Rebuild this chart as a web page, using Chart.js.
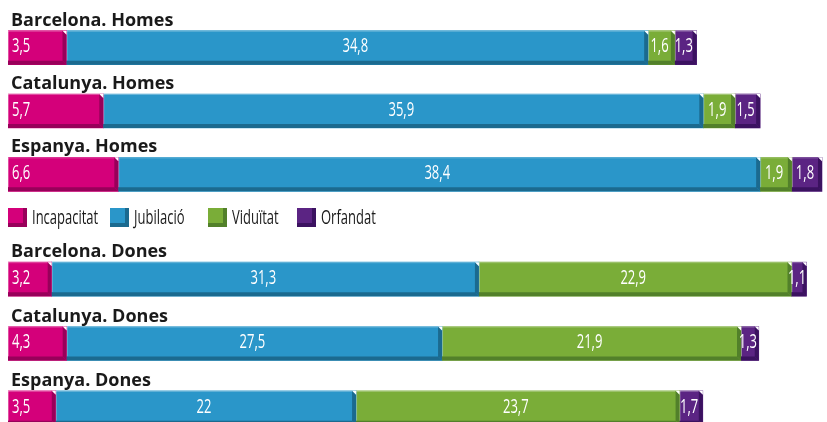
<!DOCTYPE html>
<html>
<head>
<meta charset="utf-8">
<script src="https://cdn.jsdelivr.net/npm/chart.js@4"></script>
<style>
  html, body { margin: 0; padding: 0; background: #fff; overflow: hidden; }
  body { width: 827px; height: 422px; position: relative; }
  canvas { position: absolute; left: 0; }
  #homes { top: 0; }
  #dones { top: 230px; }
  #legend { position: absolute; left: 0; top: 208px; width: 827px; height: 20px;
    font-family: "Open Sans", sans-serif; font-size: 20px; color: #1a1a1a; }
  .item { position: absolute; top: 0; height: 19px; white-space: nowrap; }
  .box { position: absolute; left: 0; top: 0; width: 19px; height: 19px; box-sizing: border-box;
    border-right: 4px solid; border-bottom: 4px solid; }
  .txt { position: absolute; left: 24px; top: -5px; line-height: 27px; transform: scaleX(0.65); transform-origin: 0 50%; }
</style>
</head>
<body>
<canvas id="homes" width="827" height="206"></canvas>
<div id="legend"></div>
<canvas id="dones" width="827" height="210"></canvas>
<script>
// Pensions per tipus (els valors tal com surten a les etiquetes)
let places = ['Barcelona', 'Catalunya', 'Espanya'];
let types = ['Incapacitat', 'Jubilació', 'Viduïtat', 'Orfandat'];

let homesIncapacitat = [3.5, 5.7, 6.6];
let homesJubilacio = [34.8, 35.9, 38.4];
let homesViduitat = [1.6, 1.9, 1.9];
let homesOrfandat = [1.3, 1.5, 1.8];

let donesIncapacitat = [3.2, 4.3, 3.5];
let donesJubilacio = [31.3, 27.5, 22];
let donesViduitat = [22.9, 21.9, 23.7];
let donesOrfandat = [1.1, 1.3, 1.7];

let frontColor = ['#d4007a', '#2a96c9', '#7aad38', '#5b2483'];
let sideColor = ['#98005a', '#1b6a8f', '#52802a', '#3b1260'];
let legendLeft = [8, 110, 208, 297];

let depth = 4;
let squeeze = 0.65; // narrow look for the value labels

function fmt(v) {
  return String(v).replace('.', ',');
}

// draws the extruded side/bottom faces and the value labels on each segment
let bevel = {
  id: 'bevel',
  afterDatasetsDraw(chart) {
    let ctx = chart.ctx;
    ctx.save();
    chart.data.datasets.forEach((ds, di) => {
      let meta = chart.getDatasetMeta(di);
      meta.data.forEach((bar, i) => {
        let p = bar.getProps(['x', 'y', 'base', 'height'], true);
        let left = Math.min(p.x, p.base), right = Math.max(p.x, p.base);
        let top = p.y - p.height / 2, bottom = p.y + p.height / 2;
        // light edge on the front face
        ctx.fillStyle = 'rgba(255,255,255,0.3)';
        ctx.fillRect(left, top, right - left - depth, 1);
        ctx.fillRect(left, top, 1, bottom - top - depth);
        // side face
        ctx.fillStyle = sideColor[di];
        ctx.beginPath();
        ctx.moveTo(right - depth, top);
        ctx.lineTo(right, top + depth);
        ctx.lineTo(right, bottom);
        ctx.lineTo(right - depth, bottom - depth);
        ctx.closePath();
        ctx.fill();
        // bottom face
        ctx.beginPath();
        ctx.moveTo(left, bottom - depth);
        ctx.lineTo(right - depth, bottom - depth);
        ctx.lineTo(right, bottom);
        ctx.lineTo(left, bottom);
        ctx.closePath();
        ctx.fill();
        // notch above the side face
        ctx.fillStyle = '#fff';
        ctx.beginPath();
        ctx.moveTo(right - depth, top);
        ctx.lineTo(right, top);
        ctx.lineTo(right, top + depth);
        ctx.closePath();
        ctx.fill();

        // value label
        let cy = (top + bottom - depth) / 2 + 1;
        let cx = di === 0 ? left + 4 : (left + right - depth) / 2;
        ctx.save();
        ctx.translate(cx, cy);
        ctx.scale(squeeze, 1);
        ctx.fillStyle = '#fff';
        ctx.font = '20px "Open Sans", sans-serif';
        ctx.textBaseline = 'middle';
        ctx.textAlign = di === 0 ? 'left' : 'center';
        ctx.fillText(fmt(ds.data[i]), 0, 0);
        ctx.restore();
      });
    });

    // row titles above each bar
    let meta0 = chart.getDatasetMeta(0);
    ctx.fillStyle = '#1a1a1a';
    ctx.font = 'bold 18px "Open Sans", sans-serif';
    ctx.textAlign = 'left';
    ctx.textBaseline = 'alphabetic';
    chart.data.labels.forEach((lab, i) => {
      let p = meta0.data[i].getProps(['y', 'height'], true);
      ctx.fillText(lab, 11, p.y - p.height / 2 - 5);
    });
    ctx.restore();
  }
};

function makeChart(id, group, series, max) {
  return new Chart(document.getElementById(id), {
    type: 'bar',
    data: {
      labels: places.map(p => p + '. ' + group),
      datasets: series.map((d, k) => ({
        label: types[k],
        data: d,
        backgroundColor: frontColor[k],
        borderWidth: 0,
        barThickness: 34
      }))
    },
    options: {
      indexAxis: 'y',
      responsive: false,
      animation: false,
      devicePixelRatio: 1,
      layout: { padding: { left: 8, right: 0, top: id === 'homes' ? 16 : 17, bottom: 0 } },
      scales: {
        x: { stacked: true, min: 0, max: max, display: false },
        y: { stacked: true, display: false }
      },
      plugins: { legend: { display: false }, tooltip: { enabled: false } }
    },
    plugins: [bevel]
  });
}

makeChart('homes', 'Homes', [homesIncapacitat, homesJubilacio, homesViduitat, homesOrfandat], 49);
makeChart('dones', 'Dones', [donesIncapacitat, donesJubilacio, donesViduitat, donesOrfandat], 60);

// legend between the two groups
let legend = document.getElementById('legend');
types.forEach((t, k) => {
  let item = document.createElement('div');
  item.className = 'item';
  item.style.left = legendLeft[k] + 'px';
  let box = document.createElement('span');
  box.className = 'box';
  box.style.background = frontColor[k];
  box.style.borderColor = sideColor[k];
  let txt = document.createElement('span');
  txt.className = 'txt';
  txt.textContent = t;
  item.appendChild(box);
  item.appendChild(txt);
  legend.appendChild(item);
});
</script>
</body>
</html>
